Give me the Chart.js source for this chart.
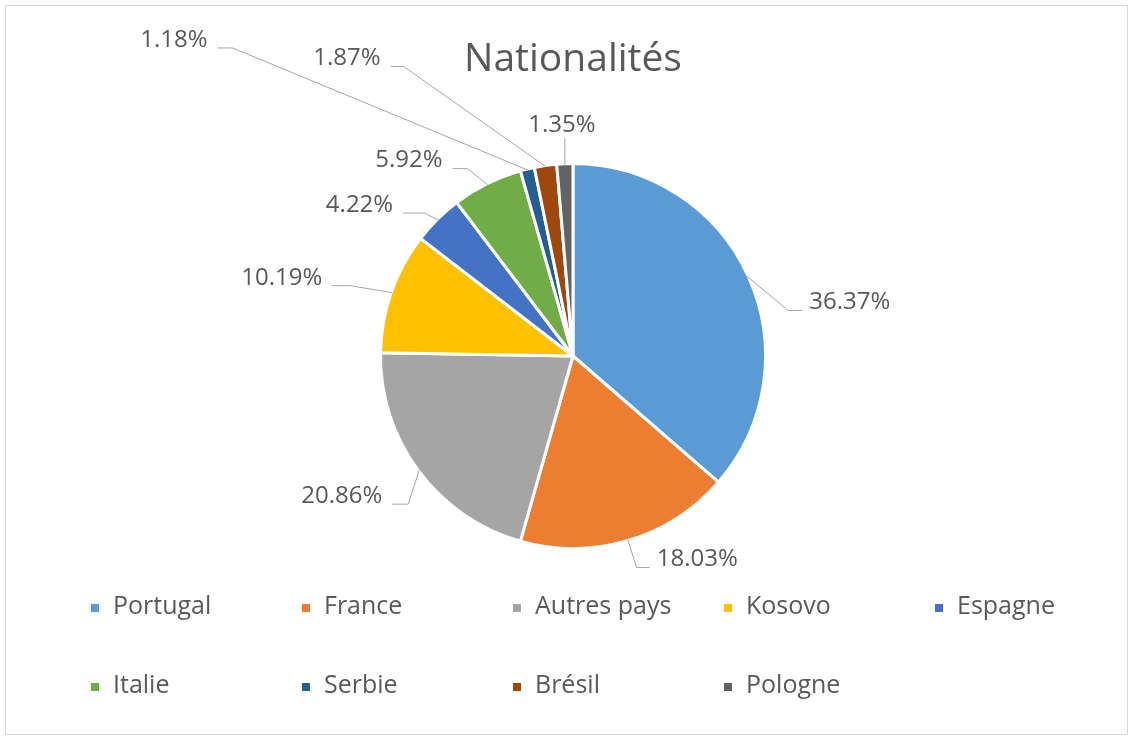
<!DOCTYPE html>
<html lang="fr">
<head>
    <meta charset="UTF-8">
    <title>Nationalités</title>
    <script src="https://cdn.jsdelivr.net/npm/chart.js"></script>
    <style>
        body {
            margin: 0;
            background: #fff;
            overflow: hidden;
        }
        .wrap {
            position: relative;
            width: 1132px;
            height: 742px;
        }
    </style>
</head>
<body>
    <div class="wrap">
        <canvas id="pieChart"></canvas>
    </div>

    <script>
        // data
        const categories = ['Portugal', 'France', 'Autres pays', 'Kosovo', 'Espagne', 'Italie', 'Serbie', 'Brésil', 'Pologne'];
        const shares = [36.37, 18.03, 20.86, 10.19, 4.22, 5.92, 1.18, 1.87, 1.35];
        const sliceColors = ['#5B9BD5', '#ED7D31', '#A5A5A5', '#FFC000', '#4472C4', '#70AD47', '#255E91', '#9E480E', '#636363'];

        const FONT = '"Open Sans", "Noto Sans", sans-serif';
        const TEXT_COLOR = '#595959';

        // leader line layout: elbow and end offsets from the slice's outer midpoint
        const labelLayout = [
            { elbow: [41, 34], end: [55, 34], side: 'right' },
            { elbow: [9, 28], end: [22, 28], side: 'right' },
            { elbow: [-11, 34], end: [-27, 34], side: 'left' },
            { elbow: [-42, -7], end: [-60, -7], side: 'left' },
            { elbow: [-14, -7], end: [-35, -7], side: 'left' },
            { elbow: [-20, -16], end: [-35, -16], side: 'left' },
            { elbow: [-295, -122], end: [-310, -122], side: 'left' },
            { elbow: [-142, -100], end: [-155, -100], side: 'left' },
            { elbow: [0, -26], end: [0, -26], side: 'top' }
        ];

        const frame = {
            id: 'frame',
            beforeDraw(chart) {
                const c = chart.ctx;
                c.save();
                c.fillStyle = '#fff';
                c.fillRect(0, 0, chart.width, chart.height);
                c.strokeStyle = '#d9d9d9';
                c.lineWidth = 1;
                c.strokeRect(5.5, 5.5, chart.width - 10, chart.height - 13);
                c.restore();
            }
        };

        const leaderLabels = {
            id: 'leaderLabels',
            afterDatasetsDraw(chart) {
                const c = chart.ctx;
                const arcs = chart.getDatasetMeta(0).data;
                c.save();
                c.font = '24px ' + FONT;
                c.textBaseline = 'middle';
                arcs.forEach((arc, i) => {
                    const p = arc.getProps(['x', 'y', 'startAngle', 'endAngle', 'outerRadius'], true);
                    const mid = (p.startAngle + p.endAngle) / 2;
                    const r = p.outerRadius - 1;
                    const ex = p.x + Math.cos(mid) * r;
                    const ey = p.y + Math.sin(mid) * r;
                    const lay = labelLayout[i];
                    const bx = ex + lay.elbow[0], by = ey + lay.elbow[1];
                    const nx = ex + lay.end[0], ny = ey + lay.end[1];

                    c.strokeStyle = '#a6a6a6';
                    c.lineWidth = 1;
                    c.beginPath();
                    c.moveTo(ex, ey);
                    c.lineTo(bx, by);
                    c.lineTo(nx, ny);
                    c.stroke();

                    const txt = shares[i].toFixed(2) + '%';
                    c.fillStyle = TEXT_COLOR;
                    if (lay.side === 'right') {
                        c.textAlign = 'left';
                        c.fillText(txt, nx + 7, ny - 8);
                    } else if (lay.side === 'left') {
                        c.textAlign = 'right';
                        c.fillText(txt, nx - 10, ny - 8);
                    } else {
                        c.textAlign = 'center';
                        c.fillText(txt, nx - 3, ny - 14);
                    }
                });
                c.restore();
            }
        };

        // Excel-style grid legend, 5 columns
        const gridLegend = {
            id: 'gridLegend',
            afterDraw(chart) {
                const c = chart.ctx;
                const ds = chart.data.datasets[0];
                c.save();
                c.font = '25px ' + FONT;
                c.textBaseline = 'middle';
                c.textAlign = 'left';
                chart.data.labels.forEach((lbl, i) => {
                    const col = i % 5, row = Math.floor(i / 5);
                    const x = 91 + col * 211;
                    const y = 608 + row * 79;
                    c.fillStyle = ds.backgroundColor[i];
                    c.fillRect(x, y - 4, 8, 8);
                    c.fillStyle = TEXT_COLOR;
                    c.fillText(lbl, x + 22, y - 1);
                });
                c.restore();
            }
        };

        const ctx = document.getElementById('pieChart').getContext('2d');
        new Chart(ctx, {
            type: 'pie',
            data: {
                labels: categories,
                datasets: [{
                    data: shares,
                    backgroundColor: sliceColors,
                    borderColor: '#fff',
                    borderWidth: 3
                }]
            },
            options: {
                responsive: true,
                maintainAspectRatio: false,
                animation: false,
                layout: {
                    padding: { left: 379, right: 365, top: 14, bottom: 192 }
                },
                plugins: {
                    legend: { display: false },
                    tooltip: { enabled: false },
                    title: {
                        display: true,
                        text: 'Nationalités',
                        color: TEXT_COLOR,
                        font: { family: FONT, size: 39, weight: 'normal', lineHeight: 1.2 },
                        padding: { top: 22.6, bottom: 78.6 }
                    }
                }
            },
            plugins: [frame, leaderLabels, gridLegend]
        });
    </script>
</body>
</html>
